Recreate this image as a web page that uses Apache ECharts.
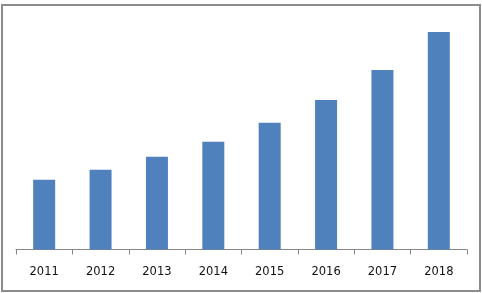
<!DOCTYPE html>
<html><head><meta charset="utf-8">
<script src="https://cdn.jsdelivr.net/npm/echarts@6/dist/echarts.min.js"></script>
<style>html,body{margin:0;padding:0;background:#fff}#c{width:482px;height:293px}</style>
</head><body><div id="c"></div>
<script>
var categories = ['2011','2012','2013','2014','2015','2016','2017','2018'];
var values = [69.8, 79.8, 92.8, 107.8, 126.8, 149.5, 179.5, 217.5];

var chart = echarts.init(document.getElementById('c'), null, {renderer:'canvas'});
chart.setOption({
  animation:false,
  backgroundColor:'#ffffff',
  graphic:[{type:'rect',shape:{x:2,y:5,width:478,height:286},style:{fill:'none',stroke:'#8c8c8c',lineWidth:2},silent:true}],
  grid:{left:16,right:15,top:19.5,bottom:43.5},
  xAxis:{type:'category',data:categories,
    axisLine:{show:true,lineStyle:{color:'#868686',width:1}},
    axisTick:{show:true,inside:false,length:5,alignWithLabel:false,interval:0,lineStyle:{color:'#868686',width:1}},
    axisLabel:{color:'#111111',fontSize:11.5,fontFamily:'DejaVu Sans',margin:17}},
  yAxis:{type:'value',min:0,max:230,show:false,splitLine:{show:false}},
  series:[{type:'bar',data:values,barWidth:22,itemStyle:{color:'#4f81bd'}}]
});
</script></body></html>
